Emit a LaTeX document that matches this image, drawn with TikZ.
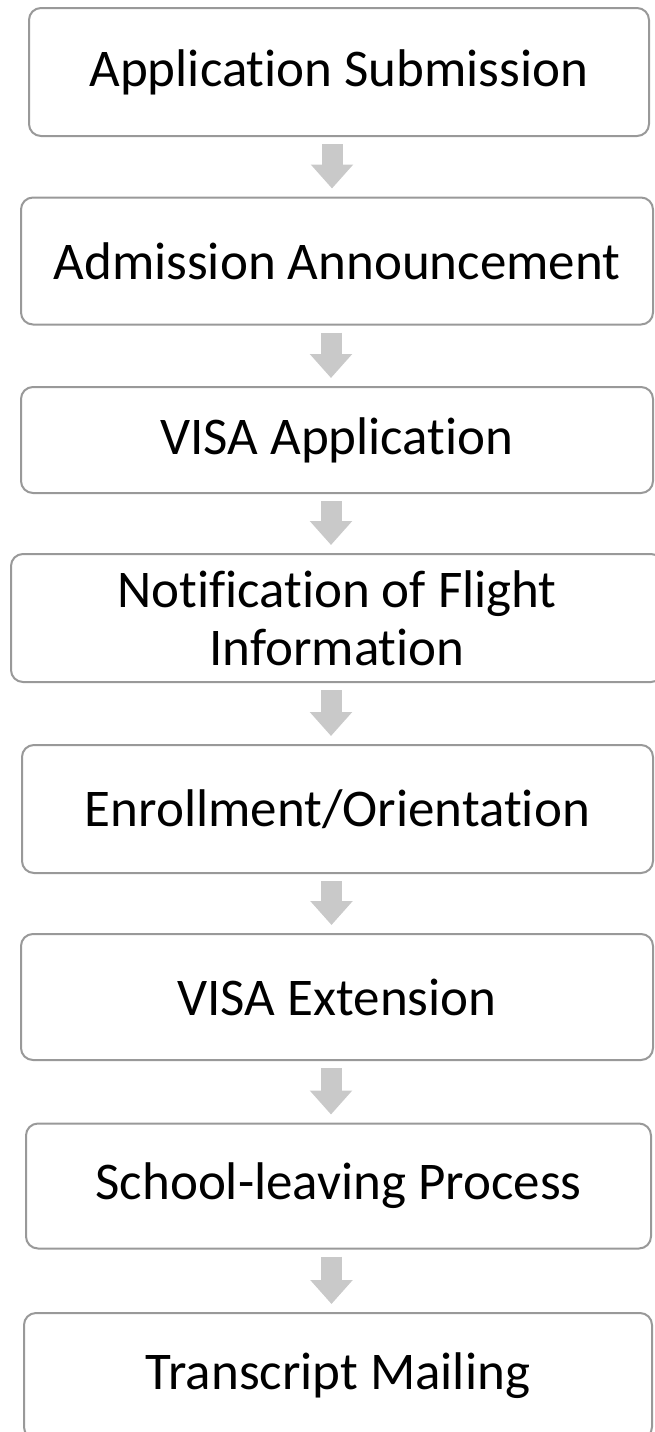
\documentclass[tikz,border=0pt]{standalone}
\usepackage{fontspec}
\setmainfont[RawFeature={-liga;-clig;-calt;-dlig}]{Carlito}
\usetikzlibrary{arrows.meta,calc}
\tikzset{
  stepBox/.style={draw=myboxgrey,line width=2pt,rounded corners=12pt,fill=white,
    inner sep=0pt,align=center,font=\fontsize{53}{58}\selectfont,
    minimum width=#1},
  stepBox/.default=632pt,
  flowArrow/.style={draw=myarrowgrey,line width=21pt,
    -{Triangle[width=41pt,length=24pt]},shorten <=7pt,shorten >=8pt},
}
\colorlet{myboxgrey}{black!40}
\colorlet{myarrowgrey}{black!21}

\begin{document}
\begin{tikzpicture}[x=1pt,y=-1pt]
  \useasboundingbox (0,0) rectangle (654,1432);

  \node[stepBox=620pt,minimum height=128pt] at (339,72) (sub) {Application Submission};
  \node[stepBox,minimum height=127pt] at (337,261) (adm) {Admission Announcement};
  \node[stepBox,minimum height=106pt] at (337,440) (visa) {VISA Application};
  \node[stepBox=652pt,minimum height=128pt] at (337,618) (flight) {Notification of Flight\\Information};
  \node[stepBox=631pt,minimum height=128pt] at (337.5,809) (enr) {Enrollment/Orientation};
  \node[stepBox,minimum height=126pt] at (337,997) (ext) {VISA Extension};
  \node[stepBox=625pt,minimum height=125pt] at (338.5,1186) (leave) {School-leaving Process};
  \node[stepBox=628pt,minimum height=126pt] at (338,1376) (mail) {Transcript Mailing};

  \draw[flowArrow] ([xshift=-7pt]sub.south) -- ([xshift=-7pt]sub.south |- adm.north);
  \draw[flowArrow] ([xshift=-6pt]adm.south) -- ([xshift=-6pt]adm.south |- visa.north);
  \draw[flowArrow] ([xshift=-6pt]visa.south) -- ([xshift=-6pt]visa.south |- flight.north);
  \draw[flowArrow] ([xshift=-6pt]flight.south) -- ([xshift=-6pt]flight.south |- enr.north);
  \draw[flowArrow] ([xshift=-6pt]enr.south) -- ([xshift=-6pt]enr.south |- ext.north);
  \draw[flowArrow] ([xshift=-6pt]ext.south) -- ([xshift=-6pt]ext.south |- leave.north);
  \draw[flowArrow] ([xshift=-7pt]leave.south) -- ([xshift=-7pt]leave.south |- mail.north);
\end{tikzpicture}
\end{document}
